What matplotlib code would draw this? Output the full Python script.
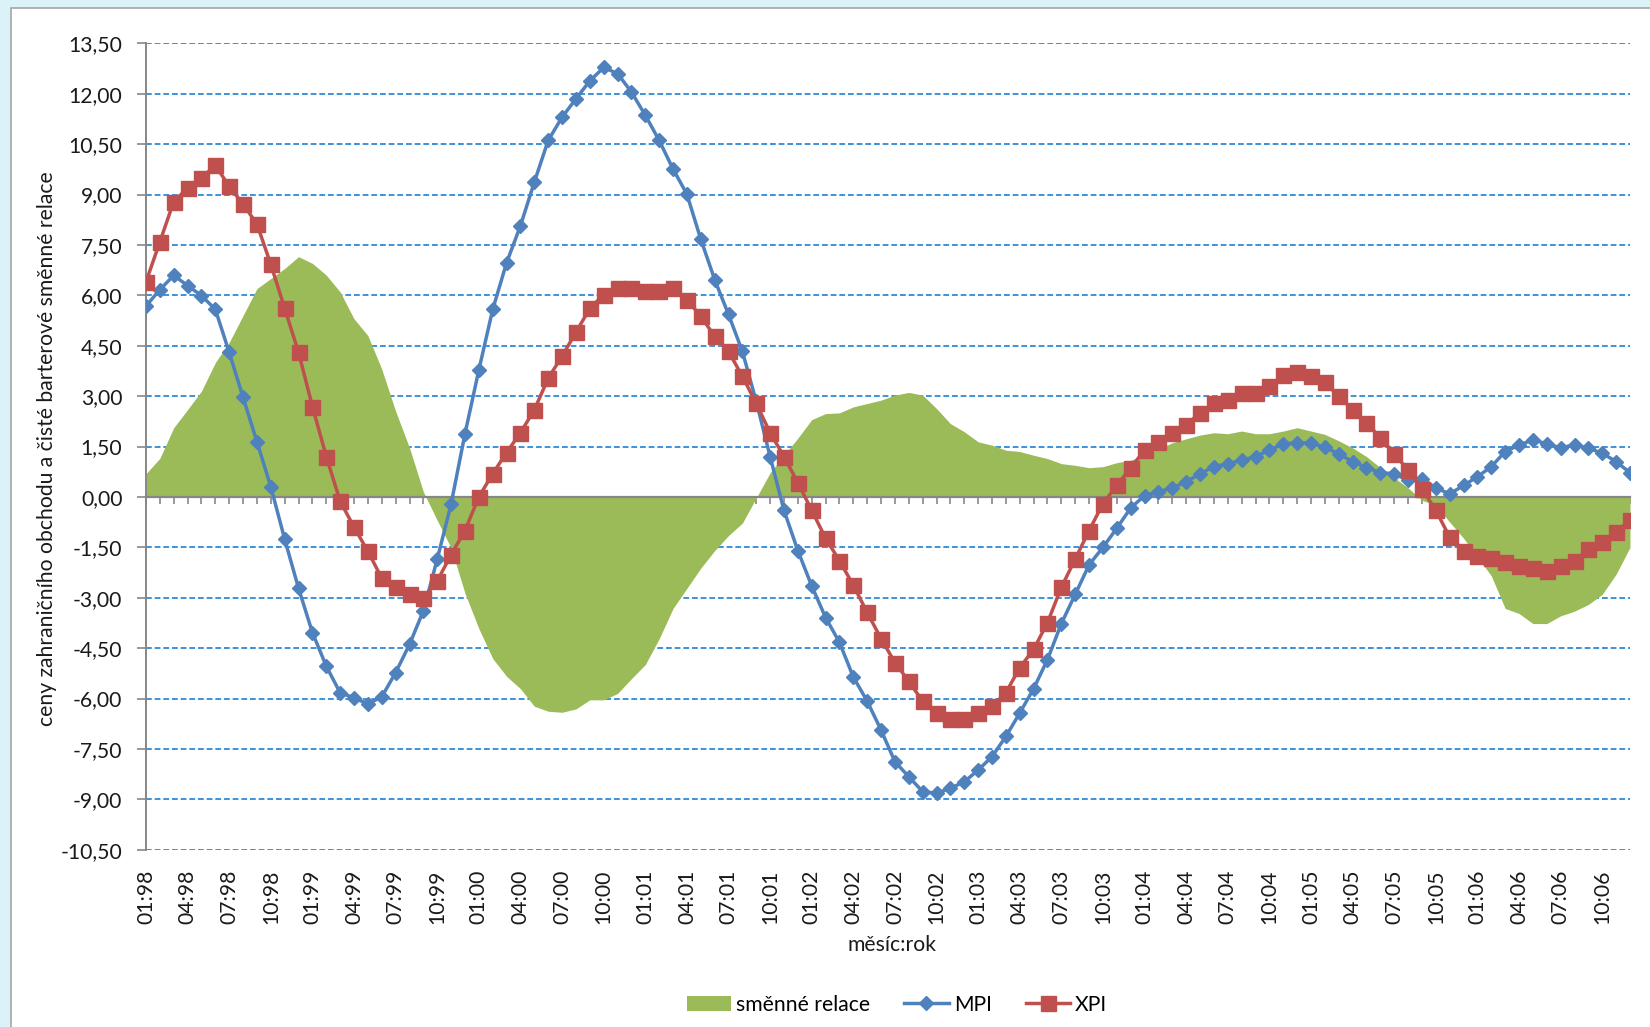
import numpy as np
import matplotlib
matplotlib.use("Agg")
import matplotlib.pyplot as plt
from matplotlib.patches import Patch, Rectangle
from matplotlib.lines import Line2D

plt.rcParams['font.family'] = ['Lato', 'DejaVu Sans']

# ---------------- data ----------------
mpi = [5.68, 6.17, 6.59, 6.29, 5.99, 5.58, 4.30, 2.96, 1.64, 0.30, -1.26, -2.72,
       -4.04, -5.04, -5.83, -5.98, -6.16, -5.95, -5.23, -4.39, -3.39, -1.85, -0.21, 1.88,
       3.78, 5.58, 6.97, 8.07, 9.37, 10.61, 11.30, 11.85, 12.38, 12.78, 12.60, 12.05,
       11.36, 10.61, 9.76, 9.01, 7.67, 6.47, 5.43, 4.33, 2.84, 1.20, -0.40, -1.60,
       -2.65, -3.59, -4.33, -5.36, -6.08, -6.94, -7.88, -8.33, -8.77, -8.82, -8.67, -8.48,
       -8.13, -7.73, -7.13, -6.43, -5.71, -4.84, -3.77, -2.90, -2.02, -1.50, -0.93, -0.33,
       0.04, 0.15, 0.27, 0.45, 0.69, 0.90, 0.99, 1.09, 1.20, 1.39, 1.58, 1.61,
       1.60, 1.48, 1.28, 1.05, 0.87, 0.72, 0.69, 0.49, 0.54, 0.27, 0.09, 0.34,
       0.60, 0.90, 1.35, 1.54, 1.70, 1.58, 1.46, 1.55, 1.45, 1.30, 1.05, 0.72]

xpi = [6.40, 7.59, 8.79, 9.19, 9.49, 9.87, 9.24, 8.71, 8.12, 6.92, 5.61, 4.30,
       2.69, 1.20, -0.13, -0.90, -1.62, -2.42, -2.69, -2.90, -3.02, -2.50, -1.72, -1.00,
       0.00, 0.69, 1.32, 1.91, 2.59, 3.53, 4.19, 4.90, 5.61, 6.02, 6.22, 6.22,
       6.13, 6.13, 6.22, 5.87, 5.38, 4.78, 4.33, 3.59, 2.78, 1.91, 1.20, 0.42,
       -0.40, -1.23, -1.90, -2.63, -3.44, -4.22, -4.93, -5.49, -6.08, -6.43, -6.61, -6.61,
       -6.43, -6.23, -5.83, -5.08, -4.54, -3.74, -2.69, -1.85, -1.00, -0.20, 0.34, 0.87,
       1.39, 1.64, 1.91, 2.14, 2.51, 2.78, 2.88, 3.08, 3.08, 3.29, 3.63, 3.71,
       3.59, 3.42, 2.99, 2.59, 2.21, 1.76, 1.29, 0.79, 0.24, -0.40, -1.20, -1.60,
       -1.75, -1.82, -1.94, -2.05, -2.12, -2.20, -2.05, -1.90, -1.55, -1.35, -1.05, -0.68]

smenne_relace = [0.69, 1.15, 2.06, 2.60, 3.15, 4.00, 4.60, 5.40, 6.20, 6.50, 6.80, 7.15,
                 6.95, 6.60, 6.10, 5.30, 4.80, 3.80, 2.55, 1.46, 0.15, -0.70, -1.52, -2.87,
                 -3.92, -4.81, -5.34, -5.71, -6.23, -6.38, -6.41, -6.31, -6.04, -6.04, -5.85, -5.41,
                 -4.99, -4.22, -3.32, -2.72, -2.12, -1.60, -1.15, -0.78, -0.03, 0.72, 1.24, 1.75,
                 2.30, 2.48, 2.50, 2.68, 2.78, 2.88, 3.03, 3.11, 3.03, 2.63, 2.18, 1.94,
                 1.64, 1.54, 1.39, 1.35, 1.24, 1.14, 0.99, 0.94, 0.87, 0.90, 1.02, 1.09,
                 1.24, 1.43, 1.61, 1.73, 1.84, 1.91, 1.88, 1.96, 1.88, 1.88, 1.96, 2.06,
                 1.96, 1.86, 1.67, 1.46, 1.20, 0.87, 0.57, 0.27, -0.10, -0.25, -0.75, -1.23,
                 -1.79, -2.35, -3.32, -3.47, -3.77, -3.77, -3.54, -3.40, -3.20, -2.90, -2.30, -1.50]

tick_labels = ["01:98", "04:98", "07:98", "10:98", "01:99", "04:99", "07:99", "10:99",
               "01:00", "04:00", "07:00", "10:00", "01:01", "04:01", "07:01", "10:01",
               "01:02", "04:02", "07:02", "10:02", "01:03", "04:03", "07:03", "10:03",
               "01:04", "04:04", "07:04", "10:04", "01:05", "04:05", "07:05", "10:05",
               "01:06", "04:06", "07:06", "10:06"]

y_ticks = [-10.5, -9.0, -7.5, -6.0, -4.5, -3.0, -1.5, 0.0, 1.5, 3.0, 4.5, 6.0,
           7.5, 9.0, 10.5, 12.0, 13.5]

# ---------------- styling ----------------
C_MPI = '#4F81BD'
C_XPI = '#C0504D'
C_AREA = '#9BBB59'
C_GRID = '#2F8AD8'
C_AXIS = '#878787'
C_TEXT = '#1a1a1a'
FS = 15.2

W, H = 1650, 1027
fig = plt.figure(figsize=(W / 100, H / 100), dpi=100)
fig.patch.set_facecolor('#DAF2F8')

# white chart panel
panel = Rectangle((10.5 / W, -0.05), 1.1, 1 - 8.5 / H + 0.05, transform=fig.transFigure,
                  facecolor='white', edgecolor='#A6A6A6', lw=1.2, zorder=-10)
fig.patches.append(panel)

left, right = 146 / W, 1630 / W
top, bottom = 1 - 43.3 / H, 1 - 849.7 / H
ax = fig.add_axes([left, bottom, right - left, top - bottom])
ax.set_zorder(1)
ax.set_facecolor('none')

n = len(mpi)
x = np.arange(n)

ax.fill_between(x, 0, smenne_relace, color=C_AREA, lw=0, zorder=1)
ax.plot(x, mpi, color=C_MPI, lw=2.5, marker='D', ms=7.5, mec=C_MPI, mfc=C_MPI, zorder=3)
ax.plot(x, xpi, color=C_XPI, lw=2.5, marker='s', ms=10.8, mec=C_XPI, mfc=C_XPI, zorder=4)

ax.set_xlim(0, n - 1)
ax.set_ylim(y_ticks[0], y_ticks[-1])

# y axis
ax.set_yticks(y_ticks)
ax.set_yticklabels([f"{v:.2f}".replace('.', ',') for v in y_ticks], fontsize=FS, color=C_TEXT)
ax.yaxis.grid(True, linestyle=(0, (3.2, 1.6)), color=C_GRID, lw=1.3)
ax.set_axisbelow(True)
ax.tick_params(axis='y', direction='out', length=6.5, width=1.2, color=C_AXIS, pad=10.5)

for s in ['top', 'right']:
    ax.spines[s].set_visible(False)
ax.spines['left'].set_color(C_AXIS)
ax.spines['left'].set_linewidth(1.4)
ax.spines['bottom'].set_position(('data', 0))
ax.spines['bottom'].set_color(C_AXIS)
ax.spines['bottom'].set_linewidth(1.6)
ax.spines['bottom'].set_zorder(2)

ax.set_xticks(x)
ax.tick_params(axis='x', direction='out', length=5, width=1.2, color=C_AXIS, labelbottom=False)

sec = ax.secondary_xaxis('bottom')
sec.set_xticks(x[::3])
sec.set_xticklabels(tick_labels, rotation=90, fontsize=FS, color=C_TEXT)
sec.tick_params(length=0, pad=14)
sec.spines['bottom'].set_visible(False)

# titles
fig.text(47 / W, 1 - 449 / H, "ceny zahraničního obchodu a čisté barterové směnné relace",
         rotation=90, ha='center', va='center', fontsize=FS, color=C_TEXT)
fig.text(892 / W, 1 - 945 / H, "měsíc:rok", ha='center', va='center', fontsize=FS, color=C_TEXT)

handles = [Patch(facecolor=C_AREA, edgecolor='none'),
           Line2D([], [], color=C_MPI, lw=2.5, marker='D', ms=7.5),
           Line2D([], [], color=C_XPI, lw=2.5, marker='s', ms=10.8)]
fig.legend(handles, ["směnné relace", "MPI", "XPI"], loc='center', ncol=3,
           bbox_to_anchor=(897 / W, 1 - 1005 / H), frameon=False, fontsize=FS,
           handlelength=2.1, handleheight=0.75, columnspacing=1.6, handletextpad=0.25)

fig.savefig('out.png', dpi=100, facecolor=fig.get_facecolor())
